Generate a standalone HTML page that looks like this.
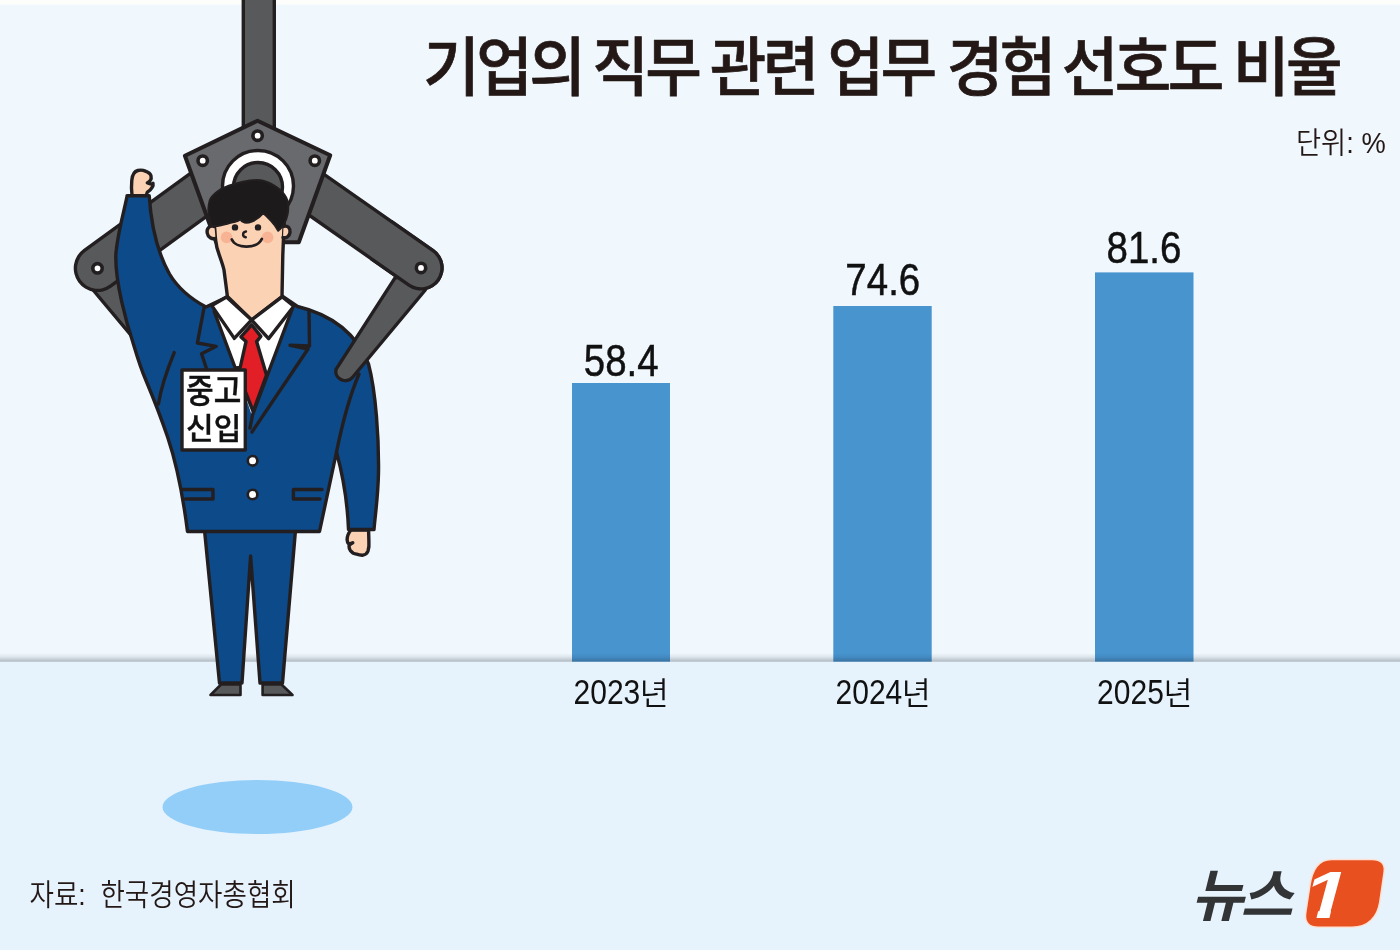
<!DOCTYPE html>
<html lang="ko">
<head>
<meta charset="utf-8">
<title>기업의 직무 관련 업무 경험 선호도 비율</title>
<style>
html,body{margin:0;padding:0;background:#fdfefb;}
body{width:1400px;height:950px;overflow:hidden;font-family:"Liberation Sans","Noto Sans CJK KR",sans-serif;}
svg{display:block;}
.kr{font-family:"Liberation Sans","Noto Sans CJK KR",sans-serif;}
.num{font-family:"Liberation Sans","Noto Sans CJK KR",sans-serif;}
</style>
</head>
<body>
<svg width="1400" height="950" viewBox="0 0 1400 950">
<defs>
<linearGradient id="floorg" x1="0" y1="0" x2="0" y2="1">
<stop offset="0" stop-color="#1a2230" stop-opacity="0"/>
<stop offset="0.45" stop-color="#1a2230" stop-opacity="0.09"/>
<stop offset="1" stop-color="#1a2230" stop-opacity="0.30"/>
</linearGradient>
<clipPath id="capclip"><rect x="370" y="220" width="90" height="90"/></clipPath>
<clipPath id="oneclip"><path d="M1290 855 L1360 855 L1360 909 L1331.6 909 L1329.2 919 L1316.2 919 L1318.7 909 L1290 909 Z"/></clipPath>
</defs>
<!-- backgrounds -->
<rect x="0" y="0" width="1400" height="950" fill="#fdfefb"/>
<rect x="0" y="4.6" width="1400" height="658" fill="#f0f8fe"/>
<rect x="0" y="661.7" width="1400" height="289" fill="#e6f3fd"/>
<!-- bars -->
<g fill="#4794cf">
<rect x="572" y="383" width="98" height="278.7"/>
<rect x="833.3" y="306" width="98.4" height="355.7"/>
<rect x="1095" y="272.4" width="98.5" height="389.3"/>
</g>
<rect x="0" y="653.2" width="1400" height="8.5" fill="url(#floorg)"/>
<!-- ILLUSTRATION -->
<g id="illust" stroke="#231f20" stroke-width="3.4" stroke-linejoin="round" stroke-linecap="round">
<!-- floor shadow ellipse -->
<ellipse cx="257.5" cy="807" rx="95" ry="27" fill="#93cef8" stroke="none"/>
<!-- pole -->
<rect x="243.3" y="-5" width="31" height="140" fill="#58595b"/>
<!-- lower claw arms -->
<path d="M97.4 268 L123.7 278.4 L181.1 367.2 A10 10 0 0 1 164.2 374.8 L93.1 290 Z" fill="#58595b"/>
<!-- upper claw arms -->
<path d="M97.5 268.3 L218.9 180.1" stroke-width="47.6" fill="none"/>
<path d="M97.5 268.3 L218.9 180.1" stroke="#58595b" stroke-width="40.8" fill="none"/>
<path d="M421 267.9 L298.1 181.8" stroke-width="45.4" fill="none"/>
<path d="M421 267.9 L298.1 181.8" stroke="#58595b" stroke-width="38.6" fill="none"/>
<circle cx="97.5" cy="268.3" r="4.7" fill="#fff" stroke-width="3.6"/>
<circle cx="421" cy="267.9" r="4.7" fill="#fff" stroke-width="3.6"/>
<!-- pentagon plate -->
<path d="M257.5 120.8 L330.2 155.2 L298.8 242.3 L216.2 242.3 L184.9 155.8 Z" fill="#696a6d" stroke-width="4"/>
<circle cx="258" cy="186" r="35.5" fill="#fff"/>
<circle cx="258" cy="187" r="24.5" fill="#58595b"/>
<circle cx="257.6" cy="135.7" r="4.7" fill="#fff" stroke-width="3.6"/>
<circle cx="202.7" cy="160.7" r="4.7" fill="#fff" stroke-width="3.6"/>
<circle cx="314.8" cy="160.7" r="4.7" fill="#fff" stroke-width="3.6"/>
<!-- trousers -->
<path d="M204.5 530 L219.5 683 L242 683 L250.6 556 L260 683 L282.5 683 L295.5 530 Z" fill="#0c4a8a"/>
<!-- shoes -->
<path d="M221 684.5 L240.5 684.5 L240.5 695 L210.5 695 Z" fill="#58595b" stroke-width="2.6"/>
<path d="M262.6 684.5 L281.5 684.5 L292.5 695 L262.6 695 Z" fill="#58595b" stroke-width="2.6"/>
<!-- raised fist -->
<path d="M132.1 196 C131.3 190 131.3 185 131.8 180.3 C132.3 175 134 171.5 137.8 170.5 C140.5 169.8 143 170 145.4 171.1 C148.5 172.3 150.5 173.5 151 175.8 C151.4 177.5 151.2 179 150.4 180.3 C149.5 181.5 148.5 182.3 147.3 182.8 C149.5 184 152 184.2 153 183.4 C153.3 184.8 153 186 152.3 187.2 C151 189.5 149.5 191 147.3 192.3 L146 196 Z" fill="#fcd2b4"/>
<!-- right hand -->
<path d="M351 530 C348.5 533 347 536.5 347.1 539.7 C347.2 541.5 347.7 542.8 348.4 543.5 C350 543.8 351.5 543.5 352.8 542.8 C351 543.8 349.5 544.8 349 546 C349 547.8 349.5 549.2 350.3 550.4 C351.8 552.5 354 553.7 356.6 554.2 C358.8 555 361 555.3 362.9 555.2 C365.5 554.7 367.2 553.2 368 551 C369 548 369.2 545 368.9 541.6 L368.6 530 Z" fill="#fcd2b4"/>
<!-- jacket -->
<path d="M127 195.7 L149.2 195.7 C151 224 156 250 169.5 274 C179 290 193 300 206 307
 L227 297 L282 296 L297.5 306.5
 C333 315 357 335 368.5 364 C376 392 379 440 378.5 473 C378 497 375.5 512 374 529.5
 L348.5 529.5 C347.5 503 342.5 474 336.5 452 L319.5 531.5 L187.5 531.5
 C183.5 500 178 468 167.7 437.3 C160.5 416 152.5 396 145.8 380 C141 369 137 356 134 346 C126 322 115.2 282 115.8 255.3 C117 236 123 216 127.2 195.7 Z" fill="#0c4a8a"/>
<!-- torso/arm inner line -->
<path d="M336.5 452 C343 420 350 395 359 374" fill="none"/>
<!-- fold line left -->
<path d="M174.2 352.6 C167 370 161 388 158.4 404" fill="none"/>
<!-- shirt -->
<path d="M214 311 L292 309 L252 416 L236 368 Z" fill="#fff" stroke="none"/>
<!-- face + neck -->
<path d="M213 205 L215.5 239.5 C216.3 246 217.5 250.5 219 254.2 C220.8 259.5 222.8 264.5 224 270 C225 278 226.3 287 227.4 296.5 L251.6 320 L282 296.5 L282.8 255 L283.5 238 L285 205 Z" fill="#fcd2b4"/>
<!-- ears -->
<path d="M214.5 226.5 C209 225 206.5 229 207.2 233 C208 237.5 212 239.5 215.5 238.5" fill="#fcd2b4"/>
<path d="M283.5 226.5 C288 225 290.5 228.5 290 232.5 C289.5 236.5 286 238.5 283 237.5" fill="#fcd2b4"/>
<!-- cheeks -->
<circle cx="226.6" cy="237.4" r="5.8" fill="#f7b394" stroke="none"/>
<circle cx="267.6" cy="237.4" r="5.8" fill="#f7b394" stroke="none"/>
<!-- eyes -->
<circle cx="235" cy="227.4" r="3.2" fill="#231f20" stroke="none"/>
<circle cx="258" cy="227.4" r="3.2" fill="#231f20" stroke="none"/>
<!-- nose -->
<path d="M246 231.5 C242.5 232 241.8 236.5 245.8 237.3" fill="none" stroke-width="2.4"/>
<!-- smile -->
<path d="M231.8 239.5 C236 249 257 249 261.8 239" fill="none" stroke-width="2.8"/>
<!-- hair -->
<path d="M211 225 C208.3 217 207.8 207 209.7 200.5 C212 194.5 220 188.8 228.7 185.8 C238 182.5 248 180.2 257.1 180 C262.5 180 267 181.6 270.8 183.7 C275.5 186.3 279.5 189 282.4 192.1 C285.5 195.5 287.3 199 287.8 202.6 C288.5 207 288.3 211 287.6 214.2 C286.8 218.5 285.3 222 283.4 224.7 C282 227 280.3 229 278.2 230.8 C276 226.5 273.5 223.3 270.8 220.5 C268.5 218 266 215.5 263.4 213.2 C260.5 216.5 256.5 219.8 251.8 221.6 C249.3 222.6 246.8 222.9 244.5 222.6 C242.6 222.2 241.2 221 240.3 219.5 C238.8 220.6 237 221.3 235 221.8 C232 222.6 229.5 223.3 226.6 223.9 C223.5 224.7 220.5 225.5 217.6 225.9 C215.2 226.2 213 225.8 211 225 Z" fill="#1c1a1b" stroke-width="2"/>
<!-- tie -->
<path d="M251.6 324.8 L260.8 336.4 L256.6 341.6 L266.5 375 L253.2 411.5 L236 368 L240.2 367.5 L246 341.6 L241 336.9 Z" fill="#e21f26"/>
<!-- collar -->
<path d="M211.8 305.6 L226.5 297 L251.6 320 L234.3 338.4 Z" fill="#fff"/>
<path d="M282 296.8 L293.8 306.3 L268.6 338.6 L251.6 320 Z" fill="#fff"/>
<!-- lapels -->
<path d="M204 308 L214.2 311.5 L236 370 L252 432 L246.8 452 L180 452 L200 353.7 L216.3 346.3 L197.4 343 Z" fill="#0c4a8a" stroke="none"/>
<path d="M204 308 L197.4 343 L216.3 346.3 L201.6 353.7 L215 395" fill="none"/>
<path d="M214.2 311.5 L236 370" fill="none"/>
<path d="M292 309.5 L252.6 414.7 L250 428 L252 432 L309 347.4 L290 345.3 L309 345 L309 311.6 Z" fill="#0c4a8a" stroke="none"/>
<path d="M292 309.5 L252.6 414.7 L250 428" fill="none"/>
<path d="M309 311.6 L309.5 346 L290 345.3 L308 349 L252 432" fill="none"/>
<!-- badge -->
<rect x="182" y="370" width="63.3" height="80" fill="#fff"/>
<!-- buttons -->
<circle cx="252.6" cy="460.8" r="4.8" fill="#fff" stroke-width="2.6"/>
<circle cx="252.6" cy="494.5" r="4.8" fill="#fff" stroke-width="2.6"/>
<!-- pockets -->
<path d="M183 489.5 L213 489.5 L213 499 L185.5 499" fill="none"/>
<path d="M322 489.5 L293.4 489.5 L293.4 499 L320 499" fill="none"/>
<!-- right lower claw arm (in front of jacket) -->
<path d="M421 268 L394.7 278.4 L336 369.3 A9.5 9.5 0 0 0 352.8 377 L425.3 290 Z" fill="#58595b"/>
<g clip-path="url(#capclip)">
<path d="M421 267.9 L298.1 181.8" stroke-width="45.4" fill="none"/>
<path d="M421 267.9 L298.1 181.8" stroke="#58595b" stroke-width="38.6" fill="none"/>
<circle cx="421" cy="267.9" r="4.7" fill="#fff" stroke-width="3.6"/>
</g>
</g>
<g class="kr" fill="#111" stroke="#111" stroke-width="0.4" text-anchor="middle" font-weight="500" font-size="30">
<text transform="translate(213.7,402.9) scale(1,1.13)">중고</text>
<text x="213.7" y="438.5">신입</text>
</g>

<!-- title -->
<g class="kr" fill="#231815">
<g id="title" font-size="63.5" font-weight="500" letter-spacing="-3.8" stroke="#231815" stroke-width="0.7">
<text transform="translate(423.25,90) scale(0.97,1)">기업의</text>
<text transform="translate(592.25,90) scale(0.97,1)">직무</text>
<text transform="translate(709.75,90) scale(0.97,1)">관련</text>
<text transform="translate(827.50,90) scale(0.97,1)">업무</text>
<text transform="translate(946.75,90) scale(0.97,1)">경험</text>
<text transform="translate(1061.75,90) scale(0.97,1)">선호도</text>
<text transform="translate(1233.00,90) scale(0.97,1)">비율</text>
</g>
<text transform="translate(1296,153) scale(0.91,1)" font-size="30" font-weight="350" xml:space="preserve">단위: %</text>
</g>
<!-- values -->
<g class="num" fill="#111" stroke="#111" stroke-width="0.5" text-anchor="middle">
<text transform="translate(621.2,375.6) scale(0.855,1)" font-size="45">58.4</text>
<text transform="translate(882.8,295) scale(0.855,1)" font-size="45">74.6</text>
<text transform="translate(1144,263) scale(0.855,1)" font-size="45">81.6</text>
</g>
<g class="num" fill="#111" id="xlabels">
<text transform="translate(573.5,704.3) scale(0.87,1)" font-size="34.5">2023</text>
<text x="639.8" y="705" font-size="31.5" font-weight="350">년</text>
<text transform="translate(835.5,704.3) scale(0.87,1)" font-size="34.5">2024</text>
<text x="901.8" y="705" font-size="31.5" font-weight="350">년</text>
<text transform="translate(1097.1,704.3) scale(0.87,1)" font-size="34.5">2025</text>
<text x="1163.4" y="705" font-size="31.5" font-weight="350">년</text>
</g>
<!-- source -->
<text class="kr" transform="translate(29.5,905) scale(0.885,1)" font-size="30" font-weight="350" fill="#231815" xml:space="preserve">자료:  한국경영자총협회</text>
<!-- logo -->
<g id="logo">
<path d="M1331.5 859.5 L1372 859.5 C1381 859.5 1385.5 864 1384.2 872 L1379.8 902 C1377.5 917 1368 927.2 1352 927.2 L1318.5 927.2 C1309 927.2 1304.3 922.5 1305.6 913.5 L1309.8 886 C1312 870 1319 859.5 1331.5 859.5 Z" fill="#e9501f" stroke="#fbe3d8" stroke-width="1.6"/>
<text transform="translate(1191,916) skewX(-14)" font-family="'Liberation Sans','Noto Sans CJK KR',sans-serif" font-weight="700" font-size="57" fill="#333436" letter-spacing="-3">뉴스</text>
<g clip-path="url(#oneclip)"><text transform="translate(1298.6,917.8) skewX(-15) scale(1.22,1)" font-family="'Liberation Sans',sans-serif" font-weight="700" font-size="67" fill="#ffffff">1</text></g>
</g>
</svg>
</body>
</html>
